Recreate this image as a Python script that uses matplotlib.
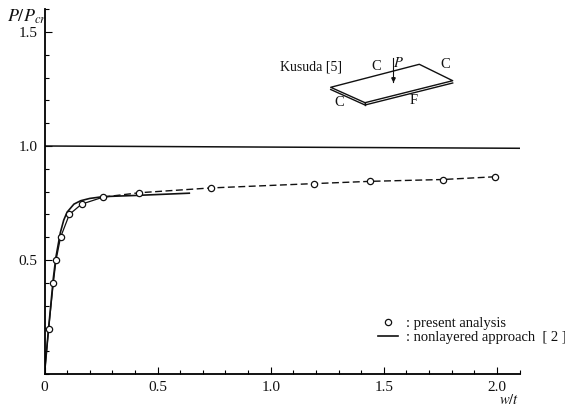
# IMPORTS
import matplotlib
matplotlib.use("Agg")
import matplotlib.pyplot as plt

plt.rcParams['font.family'] = ['Liberation Serif', 'DejaVu Serif']
plt.rcParams['mathtext.fontset'] = 'stix'

# values
present_x = [0.018, 0.039, 0.051, 0.071, 0.11, 0.164, 0.26, 0.419, 0.734, 1.19, 1.44, 1.76, 1.99]
present_y = [0.196, 0.40, 0.50, 0.60, 0.70, 0.745, 0.776, 0.795, 0.816, 0.835, 0.845, 0.853, 0.865]

nonlayered_x = [0, 0.018, 0.039, 0.05, 0.07, 0.085, 0.10, 0.13, 0.16, 0.20, 0.26, 0.40, 0.64]
nonlayered_y = [0, 0.20, 0.42, 0.51, 0.62, 0.675, 0.71, 0.745, 0.76, 0.77, 0.778, 0.783, 0.793]

critical_x = [0, 2.1]
critical_y = [1.0, 0.99]

x_ticks = [0, 0.5, 1.0, 1.5, 2.0]
x_labels = ['0', '0.5', '1.0', '1.5', '2.0']
y_ticks = [0.5, 1.0, 1.5]
y_labels = ['0.5', '1.0', '1.5']
x_minor = [i / 10 for i in range(22)]
y_minor = [i / 10 for i in range(17)]

W, H = 565, 408
INK = '#111111'
fig = plt.figure(figsize=(W / 100, H / 100), dpi=100)
ax = fig.add_axes([44.5 / W, (H - 374) / H, (519.6 - 44.5) / W, (374 - 9.2) / H])

# main curves
ax.plot(critical_x, critical_y, color=INK, lw=1.1)
ax.plot(nonlayered_x, nonlayered_y, color=INK, lw=1.2, label=': nonlayered approach  [ 2 ]')
# present analysis: solid up to the knee, dashed after it
ax.plot([0] + present_x[:7], [0] + present_y[:7], color=INK, lw=0.9)
ax.plot(present_x[6:], present_y[6:], color=INK, lw=1.0, dashes=(5, 2.5))
ax.plot(present_x, present_y, ls='none', marker='o', ms=4.5, mfc='white', mec=INK, mew=0.9,
        label=': present analysis', clip_on=False)

ax.set_xlim(0, 2.1)
ax.set_ylim(0, 1.6)
ax.spines['top'].set_visible(False)
ax.spines['right'].set_visible(False)
ax.spines['left'].set_linewidth(1.3)
ax.spines['bottom'].set_linewidth(1.3)

ax.set_xticks(x_ticks, x_labels)
ax.set_yticks(y_ticks, y_labels)
ax.set_xticks(x_minor, minor=True)
ax.set_yticks(y_minor, minor=True)
ax.tick_params(which='major', direction='in', length=5, width=0.8, labelsize=11, pad=5, labelcolor=INK)
ax.tick_params(which='minor', direction='in', length=3, width=0.8)

# legend, order as in the picture
h, l = ax.get_legend_handles_labels()
ax.legend(h[::-1], l[::-1], loc='lower left', bbox_to_anchor=(378 / W, (H - 344) / H),
          bbox_transform=fig.transFigure, frameon=False, fontsize=10.5, handlelength=1.4,
          handletextpad=0.5, labelspacing=0.05, borderpad=0, borderaxespad=0, labelcolor=INK)

# overlay in pixel coords for the sketch and the labels
ov = fig.add_axes([0, 0, 1, 1])
ov.set_xlim(0, W)
ov.set_ylim(H, 0)
ov.axis('off')
ov.patch.set_alpha(0)

ov.text(7, 17, r'$P/P_{cr}$', fontsize=13, ha='left', va='center', color=INK)
ov.text(509, 400, r'$w/t$', fontsize=10.5, ha='center', va='center', color=INK)

# plate sketch
ov.plot([365, 330.7, 419.3, 452.7, 365], [102.7, 87.3, 64.3, 80.7, 102.7], color=INK, lw=1.0)
ov.plot([330.7, 365, 452.7], [89.5, 105, 83], color=INK, lw=1.0)
ov.plot([365, 365], [102.7, 105], color=INK, lw=1.0)
ov.plot([392.7, 392.7], [58, 82], color=INK, lw=0.8)
ov.plot([392.7], [79], marker='v', ms=2.5, color=INK)

ov.text(280, 67, 'Kusuda [5]', fontsize=10, ha='left', va='center', color=INK)
ov.text(376, 66, 'C', fontsize=10.5, ha='center', va='center', color=INK)
ov.text(445, 65, 'C', fontsize=10.5, ha='center', va='center', color=INK)
ov.text(339, 102, 'C', fontsize=10.5, ha='center', va='center', color=INK)
ov.text(414, 101, 'F', fontsize=10.5, ha='center', va='center', color=INK)
ov.text(398, 63, r'$P$', fontsize=10.5, ha='center', va='center', color=INK)

fig.savefig('out.png', dpi=100)
